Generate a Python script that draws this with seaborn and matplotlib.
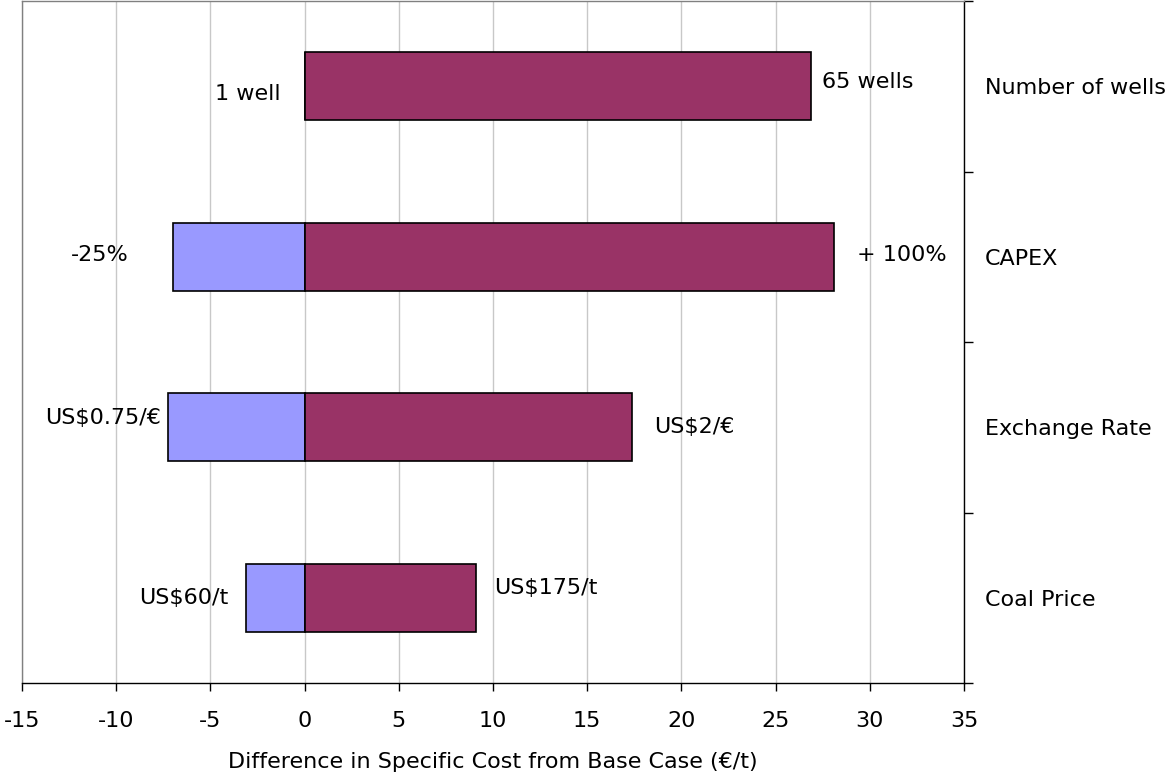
import pandas as pd
import matplotlib.pyplot as plt
import seaborn as sns
from matplotlib.ticker import FixedLocator

# === Data ===
factors = ['Number of wells', 'CAPEX', 'Exchange Rate', 'Coal Price']
low_values = [0.0, -7.0, -7.25, -3.1]
high_values = [26.9, 28.1, 17.4, 9.1]
low_labels = ['1 well', '-25%', 'US$0.75/€', 'US$60/t']
high_labels = ['65 wells', '+ 100%', 'US$2/€', 'US$175/t']

# label nudges in pixels (gap from bar end, shift downward)
low_gap = [24, 44, 7, 18]
low_dy = [8, -2, -9, 0]
high_gap = [11, 23, 22, 18]
high_dy = [-4, -2, 0, -10]

df = pd.DataFrame({
    'factor': factors * 2,
    'side': ['low'] * len(factors) + ['high'] * len(factors),
    'value': low_values + high_values,
})

sns.set_style('white')
plt.rcParams['font.family'] = ['DejaVu Sans']
plt.rcParams['axes.unicode_minus'] = False
plt.rcParams['text.color'] = 'black'
plt.rcParams['axes.labelcolor'] = 'black'
plt.rcParams['xtick.color'] = 'black'
plt.rcParams['ytick.color'] = 'black'

FS = 16

fig = plt.figure(figsize=(11.65, 7.77), dpi=100)
ax = fig.add_axes([22 / 1165, 1 - 683 / 777, (964 - 22) / 1165, 682 / 777])

sns.barplot(data=df, x='value', y='factor', hue='side', dodge=False, orient='h',
            palette={'low': '#9999FF', 'high': '#993366'}, saturation=1, width=0.4,
            edgecolor='black', linewidth=1.2, legend=False, ax=ax, zorder=3)

ax.set_xlim(-15, 35)
ax.set_ylim(len(factors) - 0.5, -0.5)
ax.set_xticks(range(-15, 36, 5))
ax.tick_params(axis='x', labelsize=FS, length=6, width=1, direction='out', pad=14, bottom=True)
ax.grid(axis='x', color='#C8C8C8', linewidth=1, zorder=0)
ax.set_axisbelow(True)

# category labels on the right, ticks between categories
ax.yaxis.tick_right()
ax.tick_params(axis='y', which='major', length=0, labelsize=FS, pad=15)
ax.yaxis.set_minor_locator(FixedLocator([i - 0.5 for i in range(len(factors) + 1)]))
ax.tick_params(axis='y', which='minor', length=6.5, width=1, right=True, left=False)
for lab in ax.get_yticklabels():
    lab.set_horizontalalignment('left')
ax.set_ylabel('')
ax.set_xlabel('Difference in Specific Cost from Base Case (€/t)', fontsize=FS, labelpad=15)

for side in ['left', 'top']:
    ax.spines[side].set_color('#808080')
for side in ['right', 'bottom']:
    ax.spines[side].set_color('black')
for s in ax.spines.values():
    s.set_linewidth(1)

for i in range(len(factors)):
    ax.annotate(low_labels[i], (low_values[i], i), xytext=(-low_gap[i], -low_dy[i]),
                textcoords='offset pixels', ha='right', va='center', fontsize=FS)
    ax.annotate(high_labels[i], (high_values[i], i), xytext=(high_gap[i], -high_dy[i]),
                textcoords='offset pixels', ha='left', va='center', fontsize=FS)

fig.savefig('out.png', dpi=100)
